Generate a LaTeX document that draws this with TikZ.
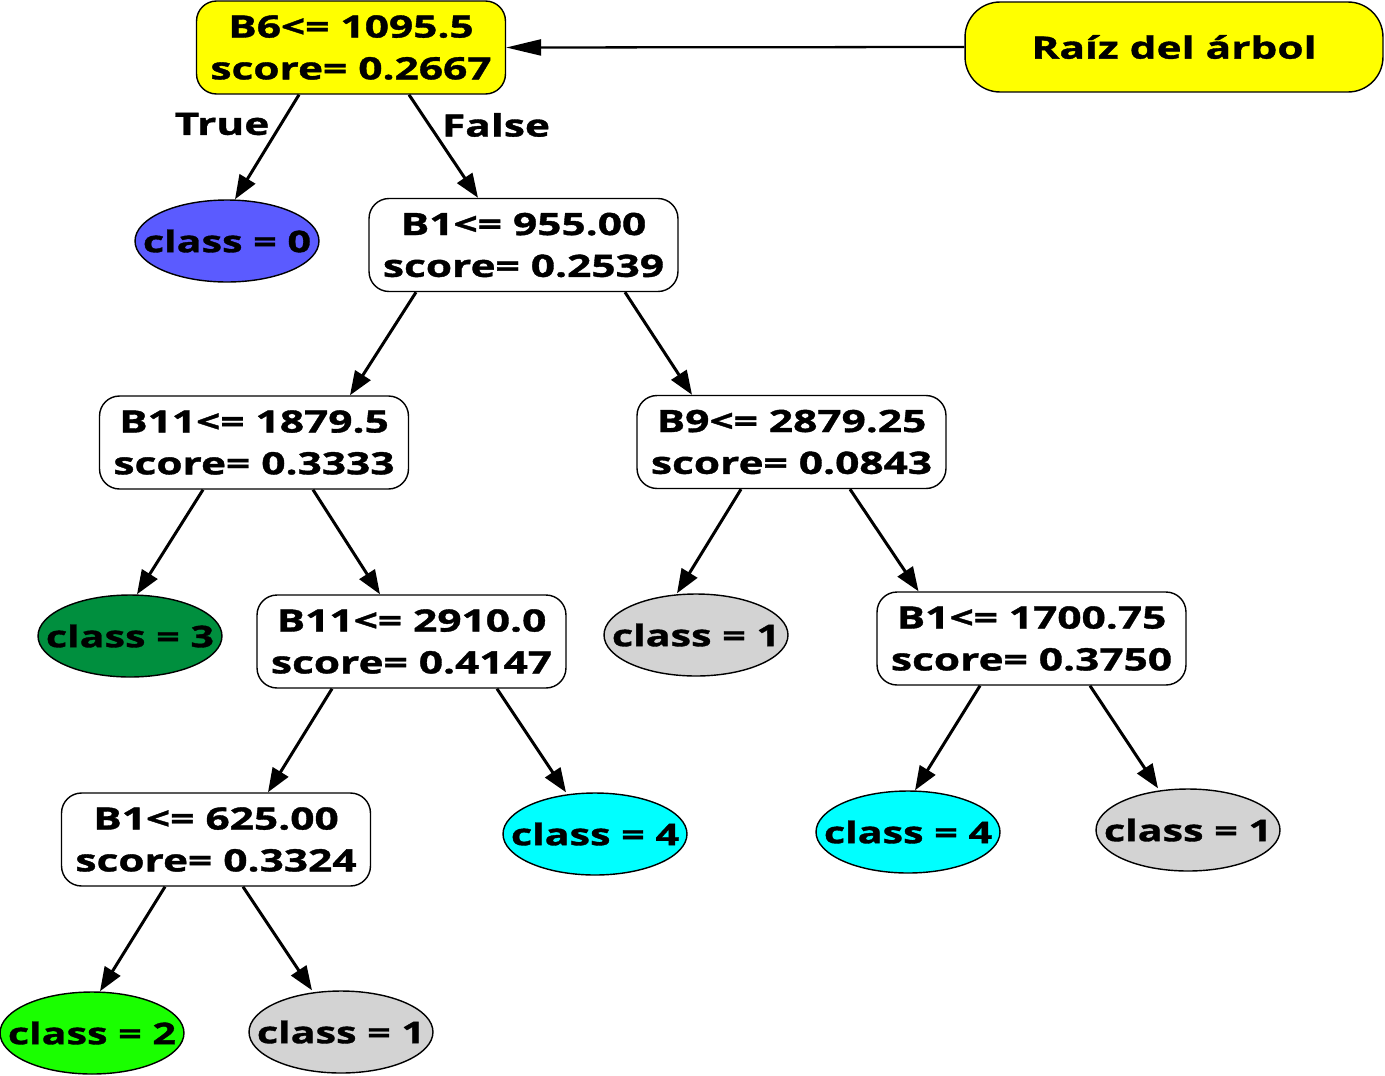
\documentclass[tikz,border=0pt]{standalone}
\usepackage{fontspec}
\usetikzlibrary{arrows.meta,shapes.geometric}
\newfontfamily\treefont[FakeStretch=1.38,FakeBold=1.2]{Open Sans}
\definecolor{rootyel}{HTML}{FFFF00}
\definecolor{cblue}{HTML}{5B5BFF}
\definecolor{cdkgreen}{HTML}{008F3E}
\definecolor{cgreen}{HTML}{1AFF00}
\definecolor{ccyan}{HTML}{00FFFF}
\definecolor{cgray}{HTML}{D3D3D3}
\newcommand{\treefnt}{\treefont\bfseries\fontsize{17.5}{23.8}\selectfont}
\newcommand{\leaffnt}{\treefont\bfseries\fontsize{17}{20}\selectfont}

\begin{document}
\begin{tikzpicture}[x=0.02cm,y=-0.02cm,
  sp/.style={draw,line width=0.8pt,rounded corners=0.4cm,fill=white,minimum width=6.18cm,minimum height=1.86cm,inner sep=0pt,align=center,font=\treefnt},
  leaf/.style={ellipse,draw,line width=0.8pt,minimum width=3.68cm,minimum height=1.64cm,inner sep=0pt,label={[font=\leaffnt]center:#1}},
  ar/.style={line width=1.7pt,-{Triangle[length=0.48cm,width=0.36cm]}}]
\useasboundingbox (0,0) rectangle (1385,1075);
% split nodes
\node[sp,fill=rootyel] (b6) at (351,47.5) {B6<= 1095.5\\score= 0.2667};
\node[sp] (b1a) at (523.5,245) {B1<= 955.00\\score= 0.2539};
\node[sp] (b11a) at (254,442.5) {B11<= 1879.5\\score= 0.3333};
\node[sp] (b9) at (791.5,442) {B9<= 2879.25\\score= 0.0843};
\node[sp] (b11b) at (411.5,641.5) {B11<= 2910.0\\score= 0.4147};
\node[sp] (b1c) at (1031.5,638.5) {B1<= 1700.75\\score= 0.3750};
\node[sp] (b1d) at (216,839.5) {B1<= 625.00\\score= 0.3324};
% leaves
\node[leaf={class = 0},fill=cblue] (c0) at (227,241) {};
\node[leaf={class = 3},fill=cdkgreen] (c3) at (130,636) {};
\node[leaf={class = 1},fill=cgray] (c1a) at (696,635) {};
\node[leaf={class = 4},fill=ccyan] (c4a) at (595,834) {};
\node[leaf={class = 4},fill=ccyan] (c4b) at (908,832) {};
\node[leaf={class = 1},fill=cgray] (c1b) at (1188,830) {};
\node[leaf={class = 2},fill=cgreen] (c2) at (92,1033) {};
\node[leaf={class = 1},fill=cgray] (c1c) at (341,1032) {};
% note
\node[sp,fill=rootyel,minimum width=8.36cm,minimum height=1.8cm,rounded corners=0.7cm] (raiz) at (1174,47) {Raíz del árbol};
\node[font=\treefnt] (tl) at (222,124) {True};
\node[font=\treefnt] (fl) at (496,125) {False};
% edges
\draw[ar] ([xshift=-1.04cm]b6.south) -- ([xshift=0.16cm]c0.north);
\draw[ar] ([xshift=1.16cm]b6.south) -- ([xshift=-0.91cm]b1a.north);
\draw[ar] ([xshift=-2.15cm]b1a.south) -- ([xshift=1.92cm]b11a.north);
\draw[ar] ([xshift=2.03cm]b1a.south) -- ([xshift=-1.99cm]b9.north);
\draw[ar] ([xshift=-1.02cm]b11a.south) -- ([xshift=0.14cm]c3.north);
\draw[ar] ([xshift=1.18cm]b11a.south) -- ([xshift=-0.63cm]b11b.north);
\draw[ar] ([xshift=-1.01cm]b9.south) -- ([xshift=-0.38cm]c1a.north);
\draw[ar] ([xshift=1.17cm]b9.south) -- ([xshift=-2.26cm]b1c.north);
\draw[ar] ([xshift=-1.59cm]b11b.south) -- ([xshift=1.04cm]b1d.north);
\draw[ar] ([xshift=1.71cm]b11b.south) -- ([xshift=-0.58cm]c4a.north);
\draw[ar] ([xshift=-1.03cm]b1c.south) -- ([xshift=0.14cm]c4b.north);
\draw[ar] ([xshift=1.17cm]b1c.south) -- ([xshift=-0.6cm]c1b.north);
\draw[ar] ([xshift=-1.02cm]b1d.south) -- ([xshift=0.16cm]c2.north);
\draw[ar] ([xshift=0.54cm]b1d.south) -- ([xshift=-0.58cm]c1c.north);
\draw[line width=1.3pt,-{Triangle[length=0.7cm,width=0.32cm]}] (raiz.west) -- (b6.east);
\end{tikzpicture}
\end{document}
